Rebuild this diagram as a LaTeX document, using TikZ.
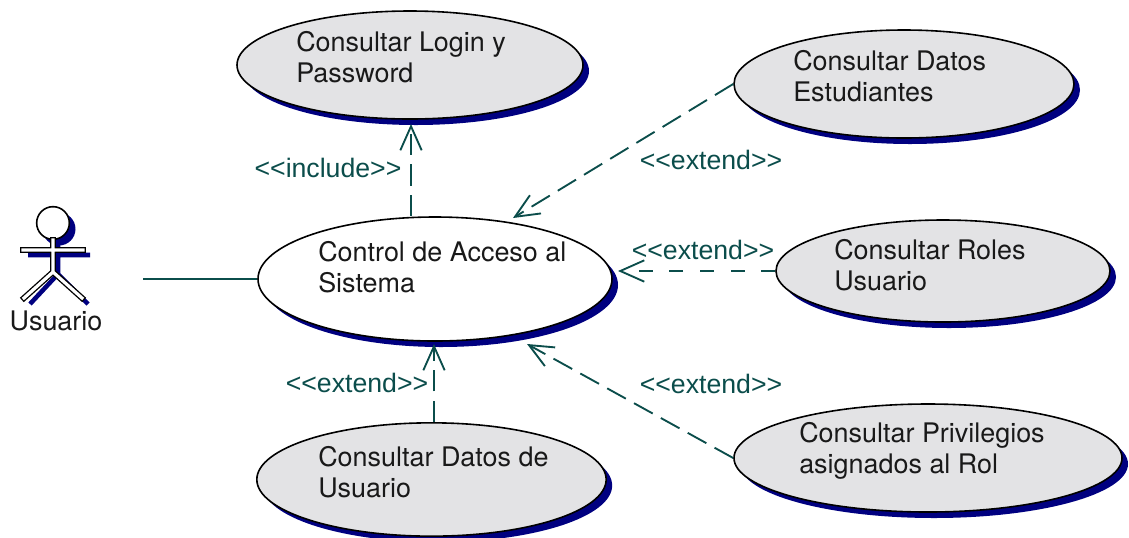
\documentclass[tikz,border=0pt]{standalone}
\usepackage{fontspec}
\setmainfont{TeX Gyre Heros}
\newfontfamily\etiqfont{Liberation Sans}
\usetikzlibrary{shapes.geometric,shadows,arrows.meta}
\definecolor{gris}{HTML}{E3E3E5}
\definecolor{sombra}{HTML}{000080}
\definecolor{verde}{HTML}{0B4D4B}
\tikzset{
  casouso/.style={ellipse,draw=black,line width=1.2pt,inner sep=0pt,fill=gris,
    drop shadow={shadow xshift=4.5pt,shadow yshift=-4.5pt,fill=sombra,opacity=1}},
  texto/.style={anchor=west,align=left,inner sep=0pt,text=black!90,font=\fontsize{20.2}{23.4}\selectfont},
  etiqueta/.style={inner sep=0pt,text=verde,font=\etiqfont\fontsize{20}{23.4}\selectfont},
  extiende/.style={draw=verde,line width=1.4pt,dash pattern=on 16pt off 7pt,
    -{Straight Barb[length=18pt,width=16pt,line width=1.4pt]}},
}
\begin{document}
\begin{tikzpicture}[x=0.75pt,y=-0.75pt]
\path[use as bounding box] (0,0) rectangle (1129,537);
% casos de uso
\node(login)[casouso,minimum width=259.5pt,minimum height=81pt] at (410,65){};
\node(estudiantes)[casouso,minimum width=255pt,minimum height=81pt] at (904,84){};
\node(acceso)[casouso,fill=white,minimum width=265.5pt,minimum height=93pt] at (435,279){};
\node(roles)[casouso,minimum width=250.5pt,minimum height=76.5pt] at (943,271){};
\node(privilegios)[casouso,minimum width=291pt,minimum height=81pt] at (928,458){};
\node(datos)[casouso,minimum width=262pt,minimum height=85pt] at (431.5,479.5){};
% textos
\node(loginT)[texto] at (296,57){Consultar Login y\\Password};
\node(estudiantesT)[texto] at (793,76){Consultar Datos\\Estudiantes};
\node(accesoT)[texto] at (318,267){Control de Acceso al\\Sistema};
\node(rolesT)[texto] at (834,265){Consultar Roles\\Usuario};
\node(privilegiosT)[texto] at (799,451){Consultar Privilegios\\asignados al Rol};
\node(datosT)[texto] at (318,472){Consultar Datos de\\Usuario};
% actor
\fill[sombra] (59,229) circle (16.5);
\draw[sombra,line width=3.4pt] (28,255)--(90,255) (58,240)--(58,274) (58,274)--(30,304) (58,274)--(88,304);
\node(cabeza)[circle,draw=black,fill=white,line width=1.2pt,minimum size=24.5pt,inner sep=0pt] at (53,223){};
\draw[line width=1pt,double=white,double distance=2.4pt,line cap=rect,line join=miter]
  (23,250)--(83,250) (53,240)--(53,272) (53,272)--(24,298) (53,272)--(82,298);
\node(usuario)[inner sep=0pt,text=black!90,font=\fontsize{20.2}{23.4}\selectfont] at (56,321){Usuario};
% conexiones
\coordinate(manoA) at (143,279);
\coordinate(puntaLogin) at (411,124);
\coordinate(puntaEst) at (513,218);
\coordinate(puntaRoles) at (618,271);
\coordinate(puntaPriv) at (527,344);
\coordinate(puntaDatos) at (434,344);
\draw[verde,line width=1.4pt] (manoA) -- (acceso.west);
\draw[extiende] (acceso.north -| puntaLogin) -- (puntaLogin);
\draw[extiende] (estudiantes.west) -- (puntaEst);
\draw[extiende,dash pattern=on 10.5pt off 12.5pt] (roles.west) -- (puntaRoles);
\draw[extiende] (privilegios.west) -- (puntaPriv);
\draw[extiende] (datos.north -| puntaDatos) -- (puntaDatos);
% etiquetas
\node(incl)[etiqueta] at (328,168){{<}{<}include{>}{>}};
\node(extA)[etiqueta] at (711,160){{<}{<}extend{>}{>}};
\node(extB)[etiqueta] at (703,250){{<}{<}extend{>}{>}};
\node(extC)[etiqueta] at (711,384){{<}{<}extend{>}{>}};
\node(extD)[etiqueta] at (357,383){{<}{<}extend{>}{>}};
\end{tikzpicture}
\end{document}
